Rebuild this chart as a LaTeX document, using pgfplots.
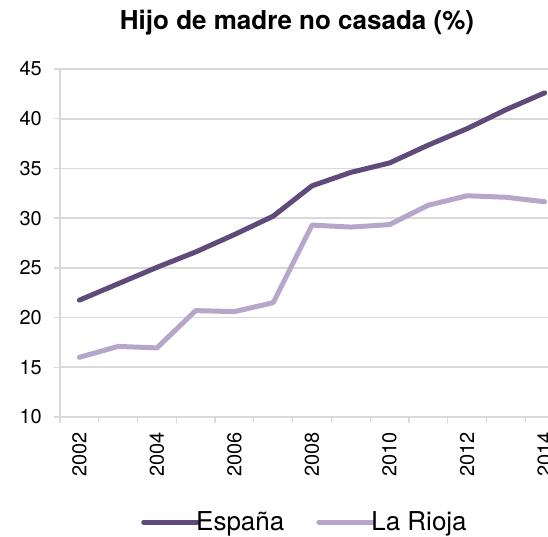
\documentclass[border=0pt]{standalone}
\usepackage{fontspec}
\setmainfont{TeX Gyre Heros}
\usepackage{pgfplots}
\pgfplotsset{compat=1.18}
\definecolor{espana}{HTML}{604A7B}
\definecolor{rioja}{HTML}{B5A6CA}
\definecolor{gridc}{HTML}{D9D9D9}
\begin{document}
\begin{tikzpicture}[x=1pt,y=1pt]
\begin{axis}[
  at={(60pt,120pt)}, anchor=south west,
  scale only axis, width=504pt, height=348pt,
  xmin=2001.5, xmax=2014.5, ymin=10, ymax=45,
  axis lines*=left,
  axis line style={draw=gridc, line width=1.8pt},
  ytick={10,15,...,45},
  ymajorgrids, grid style={draw=gridc, line width=1.8pt},
  xtick={2001.5,2002.5,...,2014.5},
  xticklabels={},
  extra x ticks={2002,2004,2006,2008,2010,2012,2014},
  extra x tick labels={2002,2004,2006,2008,2010,2012,2014},
  extra x tick style={major tick length=0pt, grid=none},
  tick align=outside, major tick length=6pt,
  tick style={draw=gridc, line width=1.3pt},
  /pgf/number format/assume math mode=true,
  /pgf/number format/1000 sep={},
  ticklabel style={font=\fontsize{20}{24}\selectfont, inner sep=0pt},
  xticklabel style={rotate=90, anchor=east},
  xticklabel shift=15pt,
  yticklabel style={anchor=east},
  yticklabel shift=12pt,
  clip=false,
  legend columns=2,
  legend style={at={(0.486,-0.302)}, anchor=center, draw=none, fill=none,
    font=\fontsize{26}{30}\selectfont, inner sep=0pt,
    /tikz/every even column/.append style={column sep=30pt}},
  legend cell align=left,
  legend image code/.code={\draw[#1, line cap=round] (0pt,0pt) -- (54pt,0pt);},
]
\addplot[espana, line width=5pt, line cap=round, line join=round] coordinates {
(2002,21.75) (2003,23.4) (2004,25.05) (2005,26.6) (2006,28.35) (2007,30.2)
(2008,33.25) (2009,34.6) (2010,35.55) (2011,37.35) (2012,39.0) (2013,40.9) (2014,42.6)};
\addlegendentry{\hspace{-6pt}España}
\addplot[rioja, line width=5pt, line cap=round, line join=round] coordinates {
(2002,16.0) (2003,17.1) (2004,16.95) (2005,20.7) (2006,20.6) (2007,21.5)
(2008,29.3) (2009,29.1) (2010,29.35) (2011,31.3) (2012,32.25) (2013,32.1) (2014,31.65)};
\addlegendentry{\hspace{-6pt}La Rioja}
\end{axis}
\node at (297pt,514pt) {\fontsize{26}{31}\selectfont\bfseries Hijo de madre no casada (\%)};
\pgfresetboundingbox
\path[use as bounding box] (0pt,0pt) rectangle (548pt,537pt);
\end{tikzpicture}
\end{document}
